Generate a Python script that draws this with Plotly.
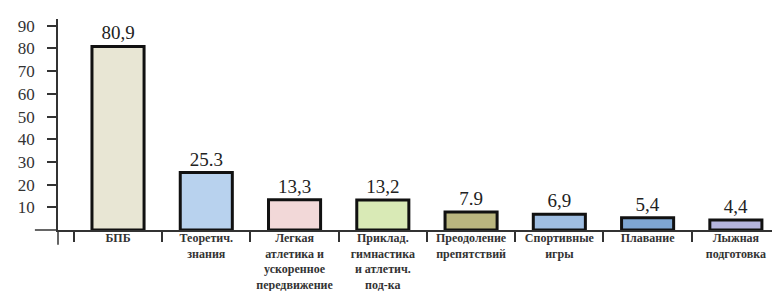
import plotly.graph_objects as go

categories = [
    "БПБ",
    "Теоретич.<br>знания",
    "Легкая<br>атлетика и<br>ускоренное<br>передвижение",
    "Приклад.<br>гимнастика<br>и атлетич.<br>под-ка",
    "Преодоление<br>препятствий",
    "Спортивные<br>игры",
    "Плавание",
    "Лыжная<br>подготовка",
]
values = [80.9, 25.3, 13.3, 13.2, 7.9, 6.9, 5.4, 4.4]
value_labels = ["80,9", "25.3", "13,3", "13,2", "7.9", "6,9", "5,4", "4,4"]
bar_colors = ["#e8e6d4", "#b8d2ee", "#f2d8d8", "#d9eab6", "#bab67f",
              "#9fbee2", "#7ea6d2", "#b4b4de"]
y_ticks = [10, 20, 30, 40, 50, 60, 70, 80, 90]

serif = "Liberation Serif, Times New Roman, serif"

fig = go.Figure(go.Bar(
    x=categories,
    y=values,
    text=value_labels,
    textposition="outside",
    textfont=dict(family=serif, size=19, color="#222"),
    marker=dict(color=bar_colors, line=dict(color="#111", width=3)),
    width=0.59,
    cliponaxis=False,
))

# page body has an 8px margin: figure is 772x283 so it ends at the window edge
fig.update_layout(
    width=772, height=283,
    margin=dict(l=50, r=0, t=11, b=61),
    paper_bgcolor="white", plot_bgcolor="white",
    showlegend=False,
    xaxis=dict(
        type="category",
        range=[-0.68, 7.5],
        showline=True, linecolor="#333", linewidth=1.5,
        ticks="outside", tickson="boundaries", ticklen=10, tickcolor="#333", tickwidth=1.5,
        ticklabelstandoff=-4,
        tickfont=dict(family=serif, size=12, color="#333", weight="bold"),
        showgrid=False,
    ),
    yaxis=dict(
        range=[0, 93],
        tickvals=y_ticks,
        showline=True, linecolor="#333", linewidth=1.5,
        ticks="outside", ticklen=9, tickcolor="#333", tickwidth=1.5,
        ticklabelstandoff=9,
        tickfont=dict(family=serif, size=17, color="#333"),
        showgrid=False, zeroline=False,
    ),
    shapes=[
        dict(type="line", xref="paper", yref="paper", x0=-0.032, x1=0, y0=0, y1=0,
             line=dict(color="#333", width=1.5)),
        dict(type="line", xref="paper", yref="paper", x0=0, x1=0, y0=0, y1=-0.07,
             line=dict(color="#333", width=1.5)),
    ],
)

fig.write_html("out.html")
